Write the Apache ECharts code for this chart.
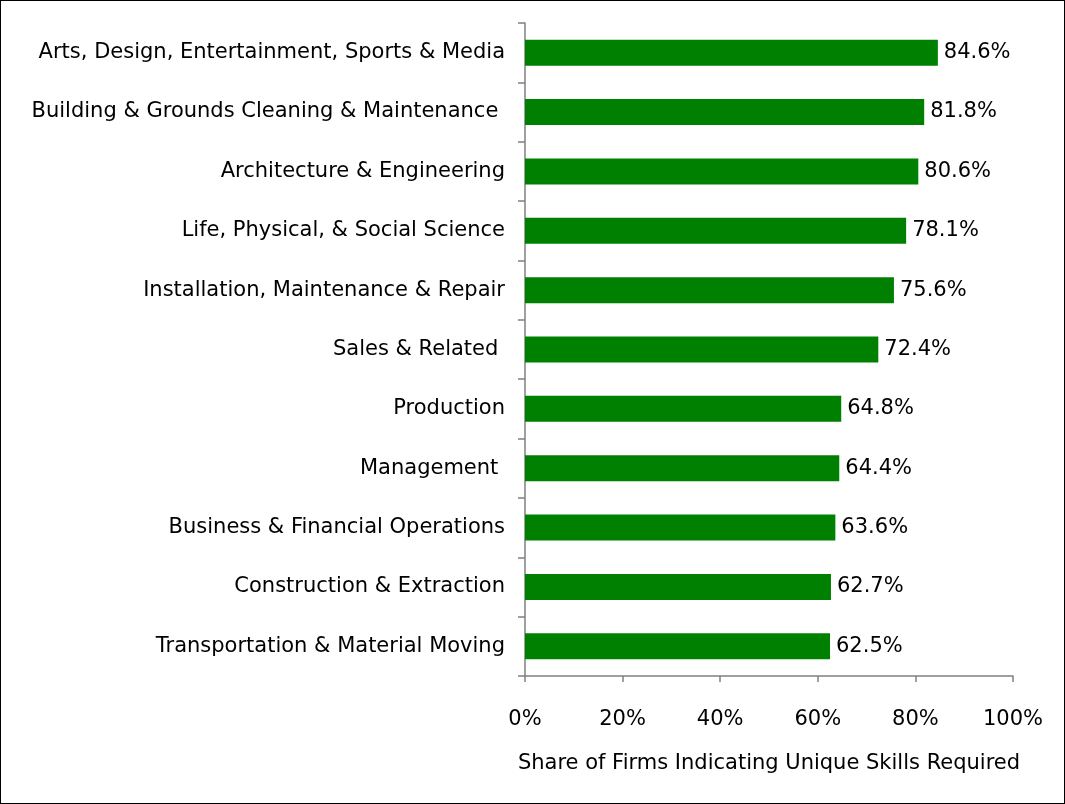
<!DOCTYPE html>
<html>
<head>
<meta charset="utf-8">
<script src="https://cdn.jsdelivr.net/npm/echarts@6/dist/echarts.min.js"></script>
<style>
html,body{margin:0;padding:0;background:#fff;}
#c{position:absolute;left:0;top:0;width:1063px;height:802px;border:1px solid #000;}
</style>
</head>
<body>
<div id="c"></div>
<script>
const categories = [
  "Arts, Design, Entertainment, Sports & Media",
  "Building & Grounds Cleaning & Maintenance ",
  "Architecture & Engineering",
  "Life, Physical, & Social Science",
  "Installation, Maintenance & Repair",
  "Sales & Related ",
  "Production",
  "Management ",
  "Business & Financial Operations",
  "Construction & Extraction",
  "Transportation & Material Moving"
];
const values = [84.6, 81.8, 80.6, 78.1, 75.6, 72.4, 64.8, 64.4, 63.6, 62.7, 62.5];
const xTicks = [0, 20, 40, 60, 80, 100];
const xTitle = "Share of Firms Indicating Unique Skills Required";

const font = "'DejaVu Sans', sans-serif";
const fs = 21;
const chart = echarts.init(document.getElementById('c'));
chart.setOption({
  animation: false,
  grid: {left: 524, right: 51, top: 22, bottom: 127, containLabel: false},
  xAxis: {
    type: 'value', min: xTicks[0], max: xTicks[xTicks.length-1], interval: 20,
    name: xTitle, nameLocation: 'middle', nameGap: 77,
    nameTextStyle: {fontFamily: font, fontSize: fs, color: '#000'},
    axisLine: {show: true, lineStyle: {color: '#808080', width: 1.5}},
    axisTick: {show: true, length: 6, lineStyle: {color: '#808080', width: 1.5}},
    axisLabel: {fontFamily: font, fontSize: fs, color: '#000', margin: 33, formatter: v => v + '%'},
    splitLine: {show: false}
  },
  yAxis: {
    type: 'category', data: categories, inverse: true,
    axisLine: {show: true, lineStyle: {color: '#808080', width: 1.5}},
    axisTick: {show: true, length: 7, lineStyle: {color: '#808080', width: 1.5}},
    axisLabel: {fontFamily: font, fontSize: fs, color: '#000', margin: 20}
  },
  series: [{
    type: 'bar', data: values, barWidth: 26,
    itemStyle: {color: '#008000'},
    label: {show: true, position: 'right', distance: 6, fontFamily: font, fontSize: fs, color: '#000',
      formatter: p => p.value.toFixed(1) + '%'}
  }]
});
</script>
</body>
</html>
